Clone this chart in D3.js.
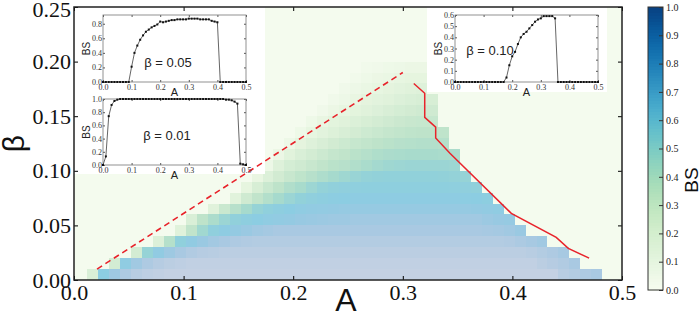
<!DOCTYPE html>
<html>
<head>
<meta charset="utf-8">
<script src="https://cdn.jsdelivr.net/npm/d3@7"></script>
<style>
  body { margin: 0; background: #fff; }
  svg { display: block; }
</style>
</head>
<body>
<div id="chart"></div>
<script>
let width = 699,
    height = 316,
    margin = ({ top: 7, right: 77, bottom: 36, left: 74 });

// main axes ticks
const xTicks = [0, 0.1, 0.2, 0.3, 0.4, 0.5];
const yTicks = [0, 0.05, 0.10, 0.15, 0.20, 0.25];
const cbarTicks = [0, 0.1, 0.2, 0.3, 0.4, 0.5, 0.6, 0.7, 0.8, 0.9, 1.0];

// heatmap: one row per beta (lower edge), first A index (A*100) and BS in %
const rowBeta = [0.00, 0.01, 0.02, 0.03, 0.04, 0.05, 0.06, 0.07, 0.08, 0.09,
                 0.10, 0.11, 0.12, 0.13, 0.14, 0.15, 0.16, 0.17, 0.18, 0.19];
const rowStart = [2, 4, 6, 8, 10, 11, 13, 15, 16, 17, 18, 19, 20, 21, 22, 23, 24, 25, 26, 27];
const rowBS = [
  [20,72,85,92,96,98,99,100,100,100,100,100,100,100,100,100,100,100,100,100,100,100,100,100,100,100,100,100,100,100,100,100,100,100,100,100,100,100,100,100,100,100,100,96,94,92,90],
  [25,75,86,92,95,97,98,99,99,99,99,99,99,99,99,99,99,99,99,99,99,99,99,99,99,99,99,99,99,99,99,99,99,99,99,99,99,99,99,97,95,93,90],
  [25,60,76,85,90,93,95,96,97,97,97,97,97,97,97,97,97,97,97,97,97,97,97,97,97,97,97,97,97,97,97,97,97,97,97,97,96,94,92,89],
  [18,45,65,76,83,87,90,92,93,94,94,94,94,94,94,94,94,94,94,94,94,94,94,94,94,94,94,94,94,94,94,94,93,91,89,86],
  [15,38,55,66,74,79,83,86,88,90,90,90,90,90,90,90,90,90,90,90,90,90,90,90,90,90,90,90,89,88,86,83],
  [20,40,50,58,64,69,72,75,77,79,82,83,84,85,85,86,86,86,86,86,86,86,86,86,86,86,86,84,82,80],
  [15,32,44,53,60,65,69,72,75,77,78,79,80,80,80,80,80,80,80,80,80,80,80,80,79,77,75],
  [14,28,38,46,53,58,62,66,69,71,72,74,74,74,74,74,74,74,74,74,74,73,72,70],
  [10,22,32,40,47,52,57,61,64,66,67,68,68,68,68,68,68,68,68,67,66,64],
  [8,18,26,33,39,44,49,53,56,59,61,62,63,63,63,63,63,62,61,60],
  [5,16,24,28,33,38,42,44,47,51,54,56,57,58,58,58,58,57],
  [6,14,20,25,30,35,38,42,45,48,50,51,52,52,52,51,50],
  [5,11,16,21,26,30,34,37,40,42,44,45,46,46,45],
  [4,9,13,17,21,25,29,32,35,37,39,40,40,39],
  [4,8,12,15,19,22,25,28,31,33,34,34],
  [3,6,9,12,15,18,21,24,26,28,28],
  [3,5,8,11,13,15,18,20,22,22],
  [3,5,7,9,11,13,15,16],
  [2,4,6,7,9,10,10],
  [2,3,4,5,6,6]
];

// red guide lines (A, beta)
const dashA = [0.021, 0.300];
const dashB = [0.010, 0.190];
const solidA = [0.310, 0.320, 0.320, 0.330, 0.330, 0.343, 0.399, 0.440, 0.451, 0.470];
const solidB = [0.180, 0.171, 0.149, 0.140, 0.130, 0.116, 0.061, 0.039, 0.029, 0.020];

// inset curves, BS at A = 0.00, 0.01, ... 0.50
const insetXTicks = [0, 0.1, 0.2, 0.3, 0.4, 0.5];
const bs005 = [0,0,0,0,0,0,0,0,0,0,
  0.21,0.40,0.50,0.58,0.64,0.69,0.72,0.75,0.77,0.79,
  0.83,0.82,0.83,0.84,0.85,0.85,0.86,0.86,0.86,0.86,
  0.87,0.87,0.87,0.87,0.86,0.86,0.86,0.86,0.84,0.83,
  0.82,0,0,0,0,0,0,0,0,0,
  0];
const bs001 = [0,0.13,0.74,0.91,0.97,0.99,1,1,1,1,
  1,1,1,1,1,1,1,1,1,1,
  1,1,1,1,1,1,1,1,1,1,
  1,1,1,1,1,1,1,1,1,1,
  1,1,1,0.99,0.99,0.98,0.96,0.93,0.02,0.01,
  0];
const bs010 = [0,0,0,0,0,0,0,0,0,0,
  0,0,0,0,0,0,0,0,0.04,0.15,
  0.23,0.27,0.34,0.40,0.43,0.45,0.48,0.51,0.54,0.56,
  0.57,0.59,0.59,0.59,0.59,0.57,0,0,0,0,
  0,0,0,0,0,0,0,0,0,0,
  0];

const heatColor = d3.scaleLinear()
  .domain([0, 0.1, 0.25, 0.4, 0.52, 0.62, 0.72, 0.82, 0.9, 0.96, 1])
  .range(["#f4fbee", "#e6f5df", "#d3ecd3", "#bee3ca", "#a8dbcc", "#92d1d9",
          "#8ccde2", "#98c9e2", "#a9c9e2", "#b8cde2", "#c4d1e3"]);

const svg = d3.select("#chart")
  .append("svg")
  .attr("width", width)
  .attr("height", height)
  .attr("viewBox", [0, 0, width, height]);

let x = d3.scaleLinear()
  .domain([0, 0.5])
  .range([margin.left, width - margin.right]);

let y = d3.scaleLinear()
  .domain([0, 0.25])
  .range([height - margin.bottom, margin.top]);

// zero level fills the whole plot
svg.append("rect")
  .attr("x", x(0)).attr("y", y(0.25))
  .attr("width", x(0.5) - x(0)).attr("height", y(0) - y(0.25))
  .attr("fill", heatColor(0));

const cells = rowBeta.flatMap((b, r) =>
  rowBS[r].map((v, k) => ({ a: (rowStart[r] + k) / 100, b: b, v: v / 100 })));

svg.append("g")
  .attr("shape-rendering", "crispEdges")
  .selectAll("rect")
  .data(cells)
  .join("rect")
  .attr("x", d => Math.round(x(d.a - 0.008)))
  .attr("y", d => Math.round(y(d.b + 0.01)))
  .attr("width", d => Math.round(x(d.a + 0.002)) - Math.round(x(d.a - 0.008)))
  .attr("height", d => Math.round(y(d.b)) - Math.round(y(d.b + 0.01)))
  .attr("fill", d => heatColor(d.v));

// white panels behind the insets
svg.append("rect").attr("x", x(0)).attr("y", y(0.25)).attr("width", 191).attr("height", 167).attr("fill", "#fff");
svg.append("rect").attr("x", 427).attr("y", y(0.25)).attr("width", 180).attr("height", 85).attr("fill", "#fff");

// red lines
const redLine = d3.line().x(d => x(d[0])).y(d => y(d[1]));
svg.append("path")
  .attr("d", redLine(dashA.map((a, i) => [a, dashB[i]])))
  .attr("fill", "none").attr("stroke", "#e8232b").attr("stroke-width", 1.6)
  .attr("stroke-dasharray", "6,4");
svg.append("path")
  .attr("d", redLine(solidA.map((a, i) => [a, solidB[i]])))
  .attr("fill", "none").attr("stroke", "#e8232b").attr("stroke-width", 1.5);

// insets
const insets = [
  { data: bs005, yMax: 0.92, yTicks: [0, 0.2, 0.4, 0.6, 0.8], box: [103, 15, 246, 82], label: "β = 0.05", lx: 65, ly: 52 },
  { data: bs001, yMax: 1.0, yTicks: [0, 0.2, 0.4, 0.6, 0.8, 1.0], box: [103, 99, 246, 165], label: "β = 0.01", lx: 64, ly: 41 },
  { data: bs010, yMax: 0.6, yTicks: [0, 0.1, 0.2, 0.3, 0.4, 0.5, 0.6], box: [455, 15, 598, 82], label: "β = 0.10", lx: 35, ly: 40 }
];

insets.forEach(cfg => {
  const [x0, y0, x1, y1] = cfg.box;
  const ix = d3.scaleLinear().domain([0, 0.5]).range([x0, x1]);
  const iy = d3.scaleLinear().domain([0, cfg.yMax]).range([y1, y0]);
  const g = svg.append("g");

  g.append("g")
    .attr("transform", `translate(0,${y1})`)
    .call(d3.axisBottom(ix).tickValues(insetXTicks).tickFormat(d3.format(".1f")).tickSizeInner(-2).tickSizeOuter(0).tickPadding(2));
  g.append("g")
    .attr("transform", `translate(${x0},0)`)
    .call(d3.axisLeft(iy).tickValues(cfg.yTicks).tickFormat(d3.format(".1f")).tickSizeInner(-2).tickSizeOuter(0).tickPadding(1));
  g.append("g")
    .attr("transform", `translate(0,${y0})`)
    .call(d3.axisTop(ix).tickValues(insetXTicks).tickFormat("").tickSizeInner(-2).tickSizeOuter(0));
  g.append("g")
    .attr("transform", `translate(${x1},0)`)
    .call(d3.axisRight(iy).tickValues(cfg.yTicks).tickFormat("").tickSizeInner(-2).tickSizeOuter(0));
  g.selectAll(".domain").remove();
  g.selectAll(".tick line").attr("stroke", "#555");
  g.selectAll(".tick text")
    .attr("font-family", "Liberation Serif, serif")
    .attr("font-size", 8)
    .attr("fill", "#333");

  g.append("rect")
    .attr("x", x0).attr("y", y0).attr("width", x1 - x0).attr("height", y1 - y0)
    .attr("fill", "none").attr("stroke", "#777").attr("stroke-width", 0.8);

  g.append("path")
    .attr("d", d3.line().x((d, i) => ix(i / 100)).y(d => iy(d))(cfg.data))
    .attr("fill", "none").attr("stroke", "#555").attr("stroke-width", 0.9);

  g.append("g")
    .selectAll("rect")
    .data(cfg.data)
    .join("rect")
    .attr("x", (d, i) => ix(i / 100) - 1)
    .attr("y", d => iy(d) - 1)
    .attr("width", 2).attr("height", 2)
    .attr("fill", "#111");

  g.append("text")
    .attr("x", (x0 + x1) / 2).attr("y", y1 + 14)
    .attr("text-anchor", "middle")
    .attr("font-family", "Liberation Sans, Arial, sans-serif")
    .attr("font-size", 11)
    .attr("fill", "#222")
    .text("A");

  g.append("text")
    .attr("transform", `translate(${x0 - 13},${(y0 + y1) / 2}) rotate(-90)`)
    .attr("text-anchor", "middle")
    .attr("font-family", "Liberation Sans, Arial, sans-serif")
    .attr("font-size", 10)
    .attr("fill", "#222")
    .text("BS");

  g.append("text")
    .attr("x", x0 + cfg.lx).attr("y", y0 + cfg.ly)
    .attr("text-anchor", "middle")
    .attr("font-family", "Liberation Sans, Arial, sans-serif")
    .attr("font-size", 13)
    .attr("fill", "#222")
    .text(cfg.label);
});

// main axes, ticks point inward
svg.append("g")
  .attr("transform", `translate(0,${y(0)})`)
  .attr("class", "x-axis")
  .call(d3.axisBottom(x).tickValues(xTicks).tickFormat(d3.format(".1f")).tickSizeInner(-4).tickSizeOuter(0).tickPadding(4));

svg.append("g")
  .attr("transform", `translate(${x(0)},0)`)
  .attr("class", "y-axis")
  .call(d3.axisLeft(y).tickValues(yTicks).tickFormat(d3.format(".2f")).tickSizeInner(-4).tickSizeOuter(0).tickPadding(3));

svg.append("g")
  .attr("transform", `translate(0,${y(0.25)})`)
  .call(d3.axisTop(x).tickValues(xTicks).tickFormat("").tickSizeInner(-4).tickSizeOuter(0));

svg.append("g")
  .attr("transform", `translate(${x(0.5)},0)`)
  .call(d3.axisRight(y).tickValues(yTicks).tickFormat("").tickSizeInner(-4).tickSizeOuter(0));

svg.selectAll(".domain").remove();
svg.selectAll(".x-axis text, .y-axis text")
  .attr("font-family", "Liberation Serif, serif")
  .attr("font-size", 22)
  .attr("fill", "#111");
// top label sits a little lower so it stays inside the picture
svg.selectAll(".y-axis .tick text").filter(d => d === 0.25).attr("dy", "0.45em");

svg.append("rect")
  .attr("x", x(0)).attr("y", y(0.25))
  .attr("width", x(0.5) - x(0)).attr("height", y(0) - y(0.25))
  .attr("fill", "none").attr("stroke", "#222").attr("stroke-width", 1.5);

svg.append("text")
  .attr("x", x(0.248)).attr("y", 311)
  .attr("text-anchor", "middle")
  .attr("font-family", "Liberation Sans, Arial, sans-serif")
  .attr("font-size", 32)
  .attr("fill", "#111")
  .text("A");

svg.append("text")
  .attr("transform", `translate(24,${(y(0) + y(0.25)) / 2}) rotate(-90)`)
  .attr("text-anchor", "middle")
  .attr("font-family", "Liberation Sans, Arial, sans-serif")
  .attr("font-size", 30)
  .attr("fill", "#111")
  .text("β");

// colour bar
const cb = d3.scaleLinear().domain([0, 1]).range([290, 7]);
const cbSteps = d3.range(0, 1, 0.01);

svg.append("g")
  .attr("shape-rendering", "crispEdges")
  .selectAll("rect")
  .data(cbSteps)
  .join("rect")
  .attr("x", 648).attr("width", 15)
  .attr("y", d => cb(d + 0.01))
  .attr("height", cb(0) - cb(0.01) + 0.6)
  .attr("fill", d => d3.interpolateGnBu(d + 0.005));

svg.append("g")
  .attr("transform", "translate(663,0)")
  .attr("class", "cbar-axis")
  .call(d3.axisRight(cb).tickValues(cbarTicks).tickFormat(d3.format(".1f")).tickSizeInner(-4).tickSizeOuter(0).tickPadding(3))
  .call(g => g.select(".domain").remove());

svg.selectAll(".cbar-axis text")
  .attr("font-family", "Liberation Serif, serif")
  .attr("font-size", 10)
  .attr("fill", "#222");
svg.selectAll(".cbar-axis line").attr("stroke", "#333");

svg.append("rect")
  .attr("x", 648).attr("y", 7).attr("width", 15).attr("height", 283)
  .attr("fill", "none").attr("stroke", "#333").attr("stroke-width", 1);

svg.append("text")
  .attr("transform", `translate(698,180) rotate(-90)`)
  .attr("text-anchor", "middle")
  .attr("font-family", "Liberation Sans, Arial, sans-serif")
  .attr("font-size", 19)
  .attr("fill", "#111")
  .text("BS");
</script>
</body>
</html>
